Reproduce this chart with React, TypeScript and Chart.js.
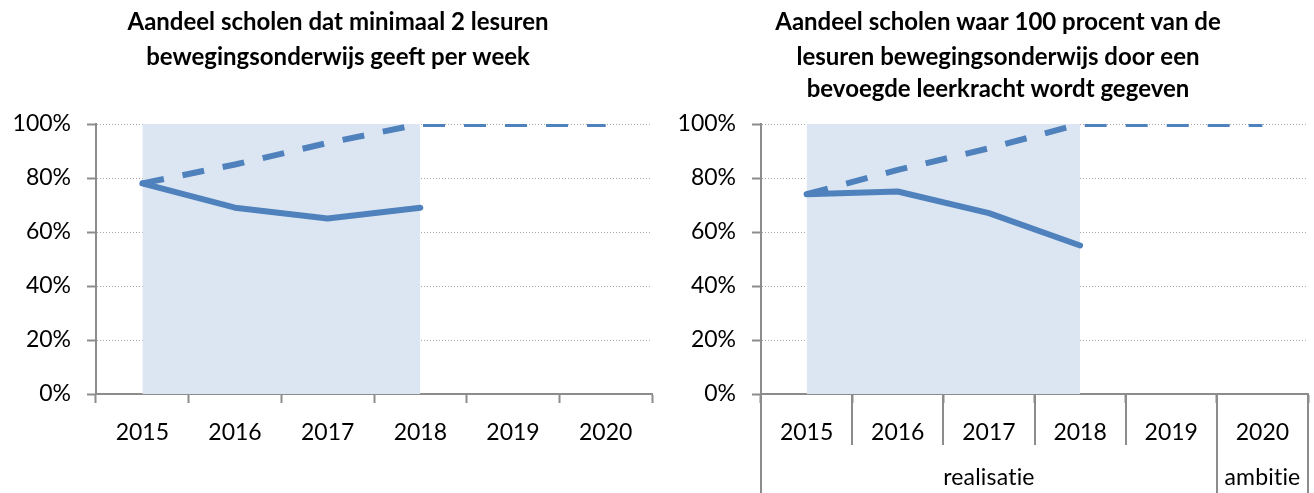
import React, { useEffect, useRef } from 'react';
import { Chart, registerables } from 'chart.js';

Chart.register(...registerables);

// ---- data ----
const years = ['2015', '2016', '2017', '2018', '2019', '2020'];
const leftRealised = [78, 69, 65, 69, null, null];
const leftTarget = [78, 85, 93, 100, 100, 100];
const rightRealised = [74, 75, 67, 55, null, null];
const rightTarget = [74, 83, 91, 100, 100, 100];
const realisedPeriod = [100, 100, 100, 100, null, null];
const yTickValues = [0, 20, 40, 60, 80, 100];
const leftTitle = ['Aandeel scholen dat minimaal 2 lesuren', 'bewegingsonderwijs geeft per week'];
const rightTitle = [
  'Aandeel scholen waar 100 procent van de',
  'lesuren bewegingsonderwijs door een',
  'bevoegde leerkracht wordt gegeven',
];
const groupLabels = ['realisatie', 'ambitie'];
const groupStart = [0, 5];
const groupEnd = [4, 5];

// ---- styles ----
const BLUE = '#4F81BD';
const SHADE = '#DCE6F2';
const AXIS = '#8C8C8C';
const GRID = '#A6A6A6';
const FONT = 'Lato';
const W = 657;
const H = 493;

function titlePlugin(lines: string[], cx: number, ys: number[]) {
  return {
    id: 'panelTitle',
    afterDraw(chart: any) {
      const ctx = chart.ctx;
      ctx.save();
      ctx.font = `bold 24px ${FONT}`;
      ctx.fillStyle = '#000';
      ctx.textAlign = 'center';
      ctx.textBaseline = 'middle';
      lines.forEach((l, i) => ctx.fillText(l, cx, ys[i]));
      ctx.restore();
    },
  };
}

const groupPlugin = {
  id: 'groupAxis',
  afterDraw(chart: any) {
    const x = chart.scales.x;
    const ctx = chart.ctx;
    const y0 = x.top;
    ctx.save();
    ctx.strokeStyle = AXIS;
    ctx.lineWidth = 2;
    for (let b = 0; b <= years.length; b++) {
      const px = Math.round(x.getPixelForValue(b - 0.5));
      let outer = false;
      groupStart.forEach((s, g) => {
        if (b === s || b === groupEnd[g] + 1) outer = true;
      });
      ctx.beginPath();
      ctx.moveTo(px, y0);
      ctx.lineTo(px, outer ? chart.height : 445);
      ctx.stroke();
    }
    ctx.font = `23px ${FONT}`;
    try {
      (ctx as any).letterSpacing = '0.2px';
    } catch (e) {}
    ctx.fillStyle = '#000';
    ctx.textAlign = 'center';
    ctx.textBaseline = 'middle';
    groupLabels.forEach((lab, g) => {
      const a = x.getPixelForValue(groupStart[g] - 0.5);
      const e = x.getPixelForValue(groupEnd[g] + 0.5);
      ctx.fillText(lab, (a + e) / 2, 478);
    });
    ctx.restore();
  },
};

function makeConfig(realised: any[], target: any[], yAxisWidth: number, padRight: number, plugins: any[]) {
  return {
    type: 'line' as const,
    data: {
      labels: years,
      datasets: [
        {
          data: realised,
          borderColor: BLUE,
          borderWidth: 6,
          pointRadius: 0,
          tension: 0,
          fill: false,
          borderCapStyle: 'round',
          borderJoinStyle: 'round',
          order: 0,
        },
        {
          data: target,
          borderColor: BLUE,
          borderWidth: 6,
          borderDash: [22, 19],
          pointRadius: 0,
          tension: 0,
          fill: false,
          borderJoinStyle: 'round',
          order: 1,
        },
        {
          data: realisedPeriod,
          borderColor: 'rgba(0,0,0,0)',
          borderWidth: 0,
          backgroundColor: SHADE,
          pointRadius: 0,
          tension: 0,
          fill: 'origin',
          order: 10,
        },
      ],
    },
    options: {
      responsive: false,
      animation: false,
      events: [],
      layout: { padding: { left: 0, right: padRight, top: 124, bottom: 0 } },
      plugins: {
        legend: { display: false },
        tooltip: { enabled: false },
        title: { display: false },
      },
      scales: {
        x: {
          type: 'category',
          offset: true,
          grid: {
            offset: true,
            drawOnChartArea: false,
            drawTicks: true,
            tickLength: 9,
            tickColor: AXIS,
            tickWidth: 2,
          },
          border: { color: AXIS, width: 2 },
          ticks: {
            font: { family: FONT, size: 23 },
            color: '#000',
            padding: 16,
            maxRotation: 0,
            autoSkip: false,
          },
          afterFit: (s: any) => {
            s.height = 99;
          },
        },
        y: {
          min: 0,
          max: 100,
          afterBuildTicks: (s: any) => {
            s.ticks = yTickValues.map((v) => ({ value: v }));
          },
          grid: {
            color: (c: any) => (c.tick && c.tick.value === 0 ? 'rgba(0,0,0,0)' : GRID),
            lineWidth: 1,
            tickLength: 9,
            tickColor: AXIS,
            tickWidth: 2,
            tickBorderDash: [100, 0],
          },
          border: { color: AXIS, width: 2, dash: [1, 2] },
          ticks: {
            font: { family: FONT, size: 23 },
            color: '#000',
            padding: 16,
            callback: (v: any) => v + '%',
          },
          afterFit: (s: any) => {
            s.width = yAxisWidth;
          },
        },
      },
    },
    plugins,
  };
}

export default function App() {
  const leftRef = useRef<HTMLCanvasElement>(null);
  const rightRef = useRef<HTMLCanvasElement>(null);

  useEffect(() => {
    const c1 = new Chart(
      leftRef.current as HTMLCanvasElement,
      makeConfig(leftRealised, leftTarget, 96, 5, [titlePlugin(leftTitle, 338, [22, 57])]) as any
    );
    const c2 = new Chart(
      rightRef.current as HTMLCanvasElement,
      makeConfig(rightRealised, rightTarget, 104, 6, [
        titlePlugin(rightTitle, 998 - 657, [22, 57, 89]),
        groupPlugin,
      ]) as any
    );
    return () => {
      c1.destroy();
      c2.destroy();
    };
  }, []);

  return (
    <div style={{ position: 'absolute', left: 0, top: 0, width: 1314, height: H, background: '#fff' }}>
      <canvas
        ref={leftRef}
        width={W}
        height={H}
        style={{ position: 'absolute', left: 0, top: 0, width: W, height: H }}
      />
      <canvas
        ref={rightRef}
        width={W}
        height={H}
        style={{ position: 'absolute', left: 657, top: 0, width: W, height: H }}
      />
    </div>
  );
}
